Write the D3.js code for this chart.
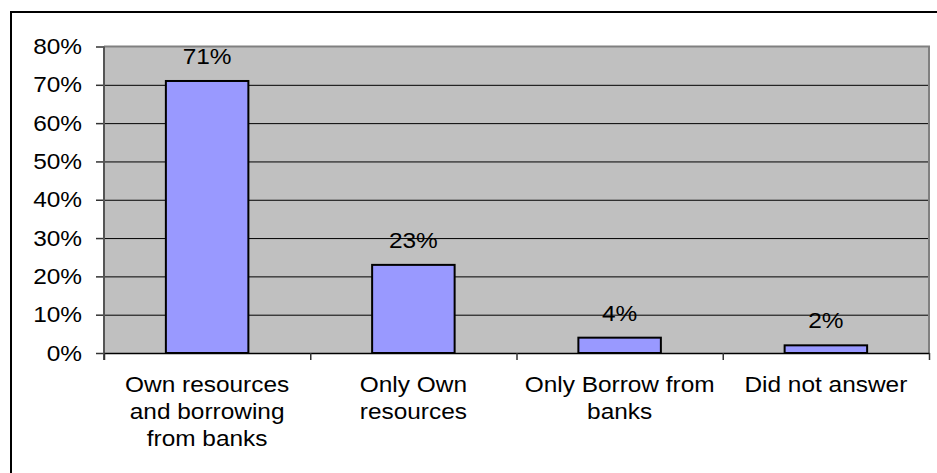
<!DOCTYPE html>
<html>
<head>
<meta charset="utf-8">
<script src="https://cdn.jsdelivr.net/npm/d3@7"></script>
<style>
  html, body { margin: 0; padding: 0; background: #fff; }
  svg { display: block; }
  text { font-family: "Liberation Sans", Arial, sans-serif; fill: #000; }
</style>
</head>
<body>
<svg id="chart" width="937" height="473"></svg>
<script>
// Funding sources: share of respondents
const categories = [
  ["Own resources", "and borrowing", "from banks"],
  ["Only Own", "resources"],
  ["Only Borrow from", "banks"],
  ["Did not answer"]
];
const values = [0.71, 0.23, 0.04, 0.02];
const valueLabels = ["71%", "23%", "4%", "2%"];
const yTicks = [0, 0.1, 0.2, 0.3, 0.4, 0.5, 0.6, 0.7, 0.8];

const W = 937, H = 473;
const plot = { left: 104, right: 929, top: 46.5, bottom: 353 };
const FONT = 22, STRETCH = 1.11;

const svg = d3.select("#chart");

// outer frame (only top and left edges fall inside the canvas)
svg.append("path")
  .attr("d", `M11,${H + 2}V12H${W + 2}`)
  .attr("fill", "none")
  .attr("stroke", "#000")
  .attr("stroke-width", 2);

const x = d3.scaleBand()
  .domain(d3.range(categories.length))
  .range([plot.left, plot.right])
  .paddingInner(0.6)
  .paddingOuter(0.3);

const xEdges = d3.scaleLinear()
  .domain([0, categories.length])
  .range([plot.left, plot.right]);

const y = d3.scaleLinear()
  .domain([0, 0.8])
  .range([plot.bottom, plot.top]);

// plot background
svg.append("rect")
  .attr("x", plot.left).attr("y", plot.top)
  .attr("width", plot.right - plot.left)
  .attr("height", plot.bottom - plot.top)
  .attr("fill", "#c0c0c0");

// horizontal gridlines
const grid = svg.append("g")
  .attr("transform", `translate(${plot.left},0)`)
  .call(d3.axisLeft(y).tickValues(yTicks.slice(1, -1))
    .tickSize(-(plot.right - plot.left)).tickFormat(""));
grid.select(".domain").remove();
grid.selectAll(".tick line").attr("stroke", "#000").attr("stroke-width", 1);

// plot border (top and right)
svg.append("path")
  .attr("d", `M${plot.left},${plot.top}H${plot.right}V${plot.bottom}`)
  .attr("fill", "none")
  .attr("stroke", "#808080")
  .attr("stroke-width", 2);

// bars
svg.append("g").selectAll("rect")
  .data(values)
  .join("rect")
  .attr("x", (d, i) => x(i))
  .attr("y", d => y(d))
  .attr("width", x.bandwidth())
  .attr("height", d => y(0) - y(d))
  .attr("fill", "#9999ff")
  .attr("stroke", "#000")
  .attr("stroke-width", 2);

// value labels
svg.append("g").selectAll("text")
  .data(values)
  .join("text")
  .attr("text-anchor", "middle")
  .attr("font-size", FONT)
  .attr("transform", (d, i) =>
    `translate(${x(i) + x.bandwidth() / 2},${y(d) - 17}) scale(${STRETCH},1)`)
  .text((d, i) => valueLabels[i]);

// y axis
const yAxis = svg.append("g")
  .attr("transform", `translate(${plot.left},0)`)
  .call(d3.axisLeft(y).tickValues(yTicks).tickSize(8).tickFormat(d3.format(".0%")));
yAxis.select(".domain").remove();
yAxis.selectAll(".tick line").attr("stroke", "#333").attr("stroke-width", 1.5);
yAxis.selectAll(".tick text")
  .attr("x", null)
  .attr("dy", "0.32em")
  .attr("font-size", FONT)
  .attr("font-family", null)
  .attr("transform", `translate(-22,0) scale(${STRETCH},1)`);

// left axis line
svg.append("line")
  .attr("x1", plot.left).attr("x2", plot.left)
  .attr("y1", plot.top).attr("y2", plot.bottom + 7)
  .attr("stroke", "#555").attr("stroke-width", 2);

// category boundary ticks and baseline
const edgeAxis = svg.append("g")
  .attr("transform", `translate(0,${plot.bottom})`)
  .call(d3.axisBottom(xEdges).tickValues(d3.range(categories.length + 1))
    .tickSize(7).tickFormat("").tickSizeOuter(0));
edgeAxis.select(".domain").attr("stroke", "#000").attr("stroke-width", 1.5);
edgeAxis.selectAll(".tick line").attr("stroke", "#333").attr("stroke-width", 1.5);

// category labels
const xAxis = svg.append("g")
  .attr("transform", `translate(0,${plot.bottom})`)
  .call(d3.axisBottom(x).tickSize(0).tickFormat(""));
xAxis.select(".domain").remove();
xAxis.selectAll(".tick").each(function (i) {
  const t = d3.select(this).append("text")
    .attr("text-anchor", "middle")
    .attr("font-size", FONT)
    .attr("transform", `translate(0,38.5) scale(${STRETCH},1)`);
  categories[i].forEach((line, k) => {
    t.append("tspan").attr("x", 0).attr("y", k * 27.5).text(line);
  });
});
</script>
</body>
</html>
